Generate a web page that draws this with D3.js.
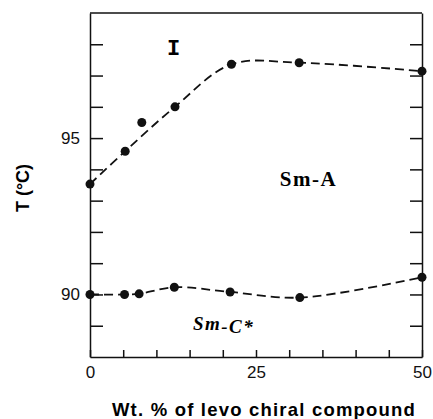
<!DOCTYPE html>
<html>
<head>
<meta charset="utf-8">
<script src="https://cdn.jsdelivr.net/npm/d3@7.9.0/dist/d3.min.js"></script>
<style>
  body { margin: 0; background: #fff; }
  svg { display: block; }
  .tick text { font-family: "Liberation Sans", Arial, sans-serif; font-size: 17px; fill: #111; }
  .tick line, .domain { stroke: #111; stroke-width: 1.5; }
</style>
</head>
<body>
<svg id="chart" width="433" height="419"></svg>
<script>
// I -> Sm-A transition (upper curve)
const upperWt = [0, 5.3, 7.8, 12.8, 21.3, 31.5, 50];
const upperT = [93.53, 94.58, 95.5, 96.0, 97.36, 97.41, 97.14];
// the guide line was drawn past the 7.8 % point, not through it
const upperOnCurve = [true, true, false, true, true, true, true];
// Sm-A -> Sm-C* transition (lower curve)
const lowerWt = [0, 5.2, 7.4, 12.7, 21.1, 31.6, 50];
const lowerT = [90.0, 90.0, 90.02, 90.23, 90.08, 89.9, 90.55];
const lowerOnCurve = [true, true, true, true, true, true, true];

const xTicks = d3.range(0, 51, 5);
const xLabels = [0, 25, 50];
const yTicks = d3.range(89, 99);
const yLabels = [90, 95];

const margin = { top: 13, right: 11, bottom: 62, left: 90 };
const svg = d3.select("#chart");
const width = 433 - margin.left - margin.right;
const height = 419 - margin.top - margin.bottom;
const g = svg.append("g").attr("transform", `translate(${margin.left},${margin.top})`);

let x = d3.scaleLinear().domain([0, 50]).range([0, width]);
let y = d3.scaleLinear().domain([88, 99]).range([height, 0]);

// axes with inward ticks
g.append("g")
  .call(d3.axisLeft(y).tickValues(yTicks).tickSize(-13).tickSizeOuter(0).tickPadding(10)
    .tickFormat(d => yLabels.includes(d) ? d : ""));
g.append("g")
  .attr("transform", `translate(${width},0)`)
  .call(d3.axisRight(y).tickValues(yTicks).tickSize(-12).tickSizeOuter(0).tickFormat(""));
g.append("g")
  .attr("transform", `translate(0,${height})`)
  .call(d3.axisBottom(x).tickValues(xTicks).tickSize(-7).tickSizeOuter(0).tickPadding(9)
    .tickFormat(d => xLabels.includes(d) ? d : ""));
g.append("line")
  .attr("x1", 0).attr("x2", width).attr("y1", 0).attr("y2", 0)
  .attr("stroke", "#111").attr("stroke-width", 1.5);

const line = d3.line()
  .x(d => x(d[0]))
  .y(d => y(d[1]))
  .curve(d3.curveCatmullRom.alpha(0.5));

[[upperWt, upperT, upperOnCurve], [lowerWt, lowerT, lowerOnCurve]].forEach(([xs, ts, on]) => {
  let pts = xs.map((v, i) => [v, ts[i]]);
  g.append("path")
    .attr("d", line(pts.filter((_, i) => on[i])))
    .attr("fill", "none")
    .attr("stroke", "#111")
    .attr("stroke-width", 1.8)
    .attr("stroke-dasharray", "9,5");
  g.selectAll(null)
    .data(pts)
    .enter().append("circle")
    .attr("cx", d => x(d[0]))
    .attr("cy", d => y(d[1]))
    .attr("r", 4.5)
    .attr("fill", "#111");
});

// phase labels
g.append("text")
  .attr("x", x(12.6)).attr("y", y(97.65))
  .attr("text-anchor", "middle")
  .style("font-family", "'Liberation Mono', monospace")
  .style("font-weight", "bold")
  .style("font-size", "22px")
  .text("I");

g.append("text")
  .attr("x", x(32.9)).attr("y", y(93.48))
  .attr("text-anchor", "middle")
  .style("font-family", "'Liberation Serif', serif")
  .style("font-weight", "bold")
  .style("font-size", "21px")
  .style("letter-spacing", "1.5px")
  .text("Sm-A");

let smc = g.append("text")
  .attr("x", x(15.5)).attr("y", y(88.85))
  .style("font-family", "'Liberation Serif', serif")
  .style("font-style", "italic")
  .style("font-weight", "bold")
  .style("font-size", "19px")
  .style("letter-spacing", "1.5px");
smc.append("tspan").text("Sm");
smc.append("tspan").attr("dy", 3).text("-C*");

// axis titles
svg.append("text")
  .attr("x", 264).attr("y", 416)
  .attr("text-anchor", "middle")
  .style("font-family", "'Liberation Sans', Arial, sans-serif")
  .style("font-weight", "bold")
  .style("font-size", "18.5px")
  .style("letter-spacing", "1.2px")
  .text("Wt. % of levo chiral compound");

svg.append("text")
  .attr("transform", "translate(29,188) rotate(-90)")
  .attr("text-anchor", "middle")
  .style("font-family", "'Liberation Sans', Arial, sans-serif")
  .style("font-weight", "bold")
  .style("font-size", "18px")
  .text("T (°C)");
</script>
</body>
</html>
